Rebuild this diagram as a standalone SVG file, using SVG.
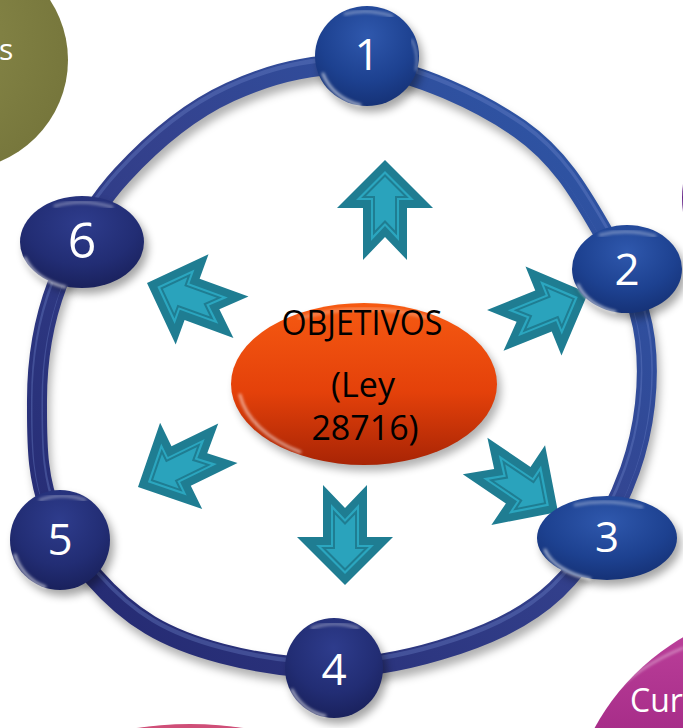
<svg xmlns="http://www.w3.org/2000/svg" width="683" height="728" viewBox="0 0 683 728">
<defs>
<filter id="blur4" x="-20%" y="-20%" width="140%" height="140%"><feGaussianBlur stdDeviation="4"/></filter>
<filter id="blur2" x="-20%" y="-20%" width="140%" height="140%"><feGaussianBlur stdDeviation="1.5"/></filter>
<radialGradient id="gBlue" cx="0.5" cy="0.3" r="0.75">
<stop offset="0" stop-color="#2f58ad"/><stop offset="0.6" stop-color="#1d4190"/><stop offset="1" stop-color="#142f72"/>
</radialGradient>
<radialGradient id="gNavy" cx="0.5" cy="0.3" r="0.75">
<stop offset="0" stop-color="#2e3c8c"/><stop offset="0.6" stop-color="#222d74"/><stop offset="1" stop-color="#181f58"/>
</radialGradient>
<linearGradient id="gCenter" x1="0" y1="0" x2="0" y2="1">
<stop offset="0" stop-color="#f65a12"/><stop offset="0.55" stop-color="#e4410a"/><stop offset="1" stop-color="#a82405"/>
</linearGradient>
<radialGradient id="gOlive" cx="0.3" cy="0.4" r="0.8">
<stop offset="0" stop-color="#8c8c4c"/><stop offset="1" stop-color="#74743a"/>
</radialGradient>
<linearGradient id="gMag" x1="0" y1="0" x2="0" y2="1">
<stop offset="0" stop-color="#c0449e"/><stop offset="0.3" stop-color="#a42a86"/><stop offset="1" stop-color="#8e2070"/>
</linearGradient>
<linearGradient id="gRing" gradientUnits="userSpaceOnUse" x1="600" y1="120" x2="120" y2="620">
<stop offset="0" stop-color="#2d56a6"/><stop offset="0.45" stop-color="#34428e"/><stop offset="1" stop-color="#262c74"/>
</linearGradient>
<path id="ringPath" d="M367,66 C415.3,71 481.2,101.8 520,129 C558.8,156.2 579.2,191.2 600,227 C620.8,262.8 640,299.2 645,340 C650,380.8 644.8,428.3 630,470 C615.2,511.7 587.7,560 556,590 C524.3,620 482.7,637.2 440,650 C397.3,662.8 348.3,671.2 300,667 C251.7,662.8 190.8,649.5 150,625 C109.2,600.5 74.2,557.5 55,520 C35.8,482.5 37,439.2 37,400 C37,360.8 42.8,322.5 57,285 C71.2,247.5 92.8,206.7 122,175 C151.2,143.3 188.8,110.8 230,92 C271.2,73.2 318.7,61 367,66 Z"/>
<path id="arOuter" d="M0,0 L-48,-48 L-48,-22 L-100,-22 L-77,0 L-100,22 L-48,22 L-48,48 Z"/>
<path id="arMid" d="M-11,0 L-40,-29 L-40,-14 L-81,-14 L-66,0 L-81,14 L-40,14 L-40,29 Z"/>
<path id="arIn" d="M-15.5,0 L-37,-21.5 L-37,-11 L-73,-11 L-61.5,0 L-73,11 L-37,11 L-37,21.5 Z"/>
<g id="arrow">
<use href="#arOuter" fill="#1f7d92"/>
<use href="#arMid" fill="#2ba6bf"/>
<use href="#arIn" fill="#2aa3bc" stroke="#1f7d92" stroke-width="2"/>
</g>
</defs>
<style>
.num{font-family:"Open Sans","Noto Sans","Liberation Sans",sans-serif;fill:#ffffff;text-anchor:middle;}
.ctr{font-family:"Open Sans","Noto Sans","Liberation Sans",sans-serif;fill:#000000;text-anchor:middle;font-size:34px;}
.gloss{fill:none;stroke:#ffffff;stroke-linecap:round;}
</style>
<rect width="683" height="728" fill="#ffffff"/>

<g id="bg-olive">
<ellipse cx="-43" cy="60" rx="111" ry="110" fill="url(#gOlive)"/>
<path d="M58,0 A111,110 0 0 1 40,140" class="gloss" stroke-width="2" opacity="0.5" filter="url(#blur2)"/>
<text x="-1" y="60" font-family="Open Sans, Noto Sans, sans-serif" font-size="30" fill="#ffffff">s</text>
</g>
<g id="bg-purple">
<ellipse cx="782" cy="198" rx="100" ry="100" fill="#6a2a8c"/>
</g>
<g id="bg-magenta">
<circle cx="800" cy="840" r="234" fill="url(#gMag)"/>
<path d="M605,700 A234,234 0 0 1 683,648" class="gloss" stroke-width="2" opacity="0.45" filter="url(#blur2)"/>
<text x="630" y="712" font-family="Open Sans, Noto Sans, sans-serif" font-size="32" fill="#ffffff">Cur</text>
</g>
<g id="bg-pink">
<ellipse cx="190" cy="784" rx="150" ry="60" fill="#cf4f78"/>
<path d="M135,727 Q190,718 245,727" class="gloss" stroke-width="2" opacity="0.6"/>
</g>

<g id="connectors">
<use href="#ringPath" fill="none" stroke="#000000" stroke-opacity="0.3" stroke-width="20" transform="translate(3,7)" filter="url(#blur4)"/>
<use href="#ringPath" fill="none" stroke="url(#gRing)" stroke-width="20"/>
<use href="#ringPath" fill="none" stroke="#6f86cc" stroke-opacity="0.35" stroke-width="12" transform="translate(0,-2)"/>
<use href="#ringPath" fill="none" stroke="url(#gRing)" stroke-width="9" transform="translate(0,1)"/>
</g>

<g id="arrows">
<use href="#arrow" transform="translate(385,160) rotate(-90)"/>
<use href="#arrow" transform="translate(588,293) rotate(-22)"/>
<use href="#arrow" transform="translate(558,512) rotate(34)"/>
<use href="#arrow" transform="translate(345,585) rotate(90)"/>
<use href="#arrow" transform="translate(138,487) rotate(154)"/>
<use href="#arrow" transform="translate(147,283) rotate(200)"/>
</g>

<g id="center">
<ellipse cx="368" cy="390" rx="133" ry="81" fill="#000000" opacity="0.3" filter="url(#blur4)"/>
<ellipse cx="364" cy="384" rx="133" ry="81" fill="url(#gCenter)"/>
<path d="M240,395 A133,81 0 0 0 300,452" class="gloss" stroke-width="3" opacity="0.55" filter="url(#blur2)"/>
<path d="M300,318 Q364,300 430,318" class="gloss" stroke-width="4" opacity="0.25" filter="url(#blur2)"/>
<text class="ctr" x="362" y="335" textLength="161" lengthAdjust="spacingAndGlyphs">OBJETIVOS</text>
<text class="ctr" x="363" y="397">(Ley</text>
<text class="ctr" x="365" y="440">28716)</text>
</g>

<g id="node1">
<ellipse cx="371" cy="62" rx="52" ry="50" fill="#000000" opacity="0.35" filter="url(#blur4)"/>
<ellipse cx="367" cy="56" rx="52" ry="50" fill="url(#gBlue)"/>
<path d="M323,74 A52,50 0 0 0 360,105" class="gloss" stroke-width="3" opacity="0.6" filter="url(#blur2)"/>
<path d="M345,14 Q367,8 392,16" class="gloss" stroke-width="3" opacity="0.35" filter="url(#blur2)"/>
<path d="M412,40 A52,50 0 0 1 416,70" class="gloss" stroke-width="2" opacity="0.4" filter="url(#blur2)"/>
<text class="num" x="367" y="70" font-size="44">1</text>
</g>
<g id="node2">
<ellipse cx="631" cy="275" rx="55" ry="44" fill="#000000" opacity="0.35" filter="url(#blur4)"/>
<ellipse cx="627" cy="269" rx="55" ry="44" fill="url(#gBlue)"/>
<path d="M578,285 A55,44 0 0 0 615,312" class="gloss" stroke-width="3" opacity="0.6" filter="url(#blur2)"/>
<path d="M600,235 Q627,228 655,236" class="gloss" stroke-width="3" opacity="0.35" filter="url(#blur2)"/>
<text class="num" x="627" y="285" font-size="44">2</text>
</g>
<g id="node3">
<ellipse cx="611" cy="544" rx="70" ry="42" fill="#000000" opacity="0.35" filter="url(#blur4)"/>
<ellipse cx="607" cy="538" rx="70" ry="42" fill="url(#gBlue)"/>
<path d="M545,550 A70,42 0 0 0 590,579" class="gloss" stroke-width="3" opacity="0.6" filter="url(#blur2)"/>
<path d="M575,505 Q607,498 642,507" class="gloss" stroke-width="3" opacity="0.35" filter="url(#blur2)"/>
<text class="num" x="607" y="552" font-size="42">3</text>
</g>
<g id="node4">
<ellipse cx="338" cy="674" rx="49" ry="50" fill="#000000" opacity="0.35" filter="url(#blur4)"/>
<ellipse cx="334" cy="668" rx="49" ry="50" fill="url(#gNavy)"/>
<path d="M292,690 A49,50 0 0 0 325,716" class="gloss" stroke-width="3" opacity="0.6" filter="url(#blur2)"/>
<path d="M312,628 Q334,620 358,628" class="gloss" stroke-width="3" opacity="0.35" filter="url(#blur2)"/>
<text class="num" x="334" y="685" font-size="44">4</text>
</g>
<g id="node5">
<ellipse cx="64" cy="546" rx="50" ry="50" fill="#000000" opacity="0.35" filter="url(#blur4)"/>
<ellipse cx="60" cy="540" rx="50" ry="50" fill="url(#gNavy)"/>
<path d="M15,555 A50,50 0 0 0 45,587" class="gloss" stroke-width="3" opacity="0.6" filter="url(#blur2)"/>
<path d="M40,500 Q62,492 85,500" class="gloss" stroke-width="3" opacity="0.35" filter="url(#blur2)"/>
<text class="num" x="60" y="555" font-size="44">5</text>
</g>
<g id="node6">
<ellipse cx="86" cy="248" rx="62" ry="46" fill="#000000" opacity="0.35" filter="url(#blur4)"/>
<ellipse cx="82" cy="242" rx="62" ry="46" fill="url(#gNavy)"/>
<path d="M25,258 A62,46 0 0 0 65,287" class="gloss" stroke-width="3" opacity="0.6" filter="url(#blur2)"/>
<path d="M55,206 Q82,198 112,207" class="gloss" stroke-width="3" opacity="0.35" filter="url(#blur2)"/>
<text class="num" x="82" y="258" font-size="50">6</text>
</g>
</svg>
